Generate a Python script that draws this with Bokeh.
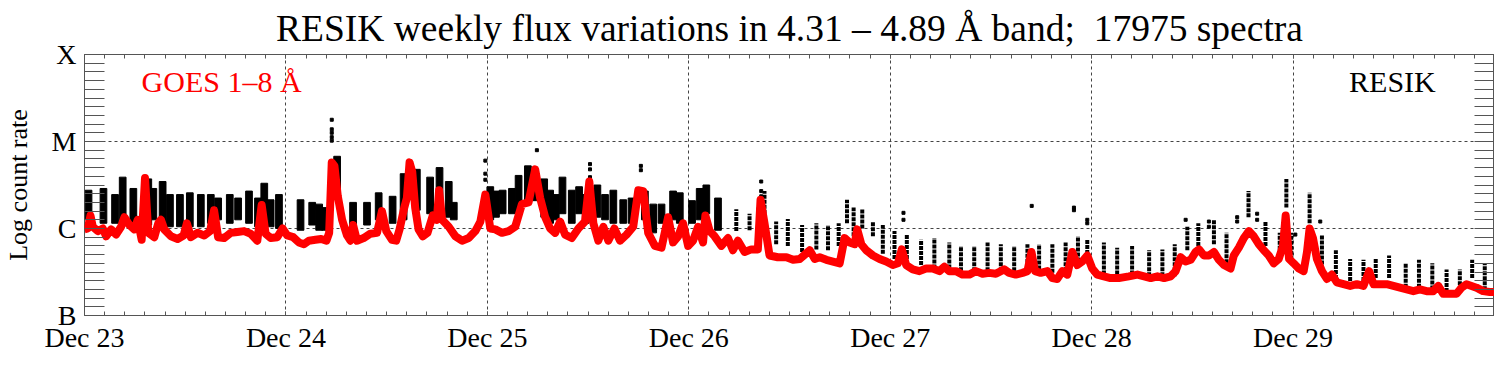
from bokeh.plotting import figure
from bokeh.models import Range1d, FixedTicker, LinearAxis, Grid, Label
from bokeh.embed import file_html
from bokeh.resources import INLINE

# ---------------- data ----------------
day_labels = ["Dec 23", "Dec 24", "Dec 25", "Dec 26", "Dec 27", "Dec 28", "Dec 29"]
day_hours = [0, 24, 48, 72, 96, 120, 144]
class_labels = ["B", "C", "M", "X"]
class_levels = [-7, -6, -5, -4]

# GOES 1-8 A flux, hours since Dec 23 00:00, log10 flux
goes_hours = [0.00, 0.40, 0.71, 0.99, 1.58, 2.18, 2.57, 3.17, 3.76, 4.36, 4.75, 5.35, 5.94, 6.34, 6.81, 7.21, 7.60,
              8.32, 8.79, 9.11, 9.50, 10.30, 11.09, 11.80, 12.20, 12.67, 13.46, 14.26, 14.97, 15.44, 15.92, 16.63,
              17.42, 18.22, 19.01, 19.80, 20.59, 21.11, 21.58, 22.18, 22.97, 23.60, 24.16, 24.87, 25.54, 26.14,
              26.73, 27.52, 28.20, 28.83, 29.15, 29.46, 29.78, 30.18, 30.69, 31.28, 31.68, 32.00, 32.47, 33.26,
              34.06, 34.85, 35.44, 35.96, 36.63, 37.14, 37.54, 38.10, 38.41, 38.73, 39.05, 39.40, 39.80, 40.31,
              40.87, 41.50, 41.98, 42.25, 42.61, 43.40, 44.20, 44.99, 45.78, 46.57, 47.17, 47.76, 48.35, 48.95,
              49.74, 50.53, 51.32, 52.12, 52.91, 53.70, 54.29, 54.89, 55.48, 56.08, 56.67, 57.26, 58.06, 58.85,
              59.64, 60.15, 60.63, 61.22, 61.82, 62.41, 63.13, 63.80, 64.59, 65.38, 65.98, 66.57, 67.16, 67.96,
              68.75, 69.54, 70.13, 70.73, 71.32, 71.92, 72.51, 73.10, 73.70, 73.98, 74.49, 75.08, 75.88, 76.67,
              77.26, 77.86, 78.65, 79.44, 80.23, 80.55, 81.02, 81.62, 82.61, 83.64, 84.43, 85.22, 85.82, 86.41,
              87.01, 87.60, 88.39, 89.18, 89.98, 90.57, 91.16, 91.76, 92.07, 92.55, 93.14, 93.94, 94.73, 95.52,
              96.31, 96.91, 97.38, 97.90, 98.69, 99.48, 100.27, 101.06, 101.86, 102.45, 103.04, 103.84, 104.63,
              105.42, 106.21, 107.00, 107.80, 108.59, 109.58, 110.17, 110.96, 111.76, 112.35, 112.83, 113.26,
              113.93, 114.73, 115.32, 115.91, 116.51, 117.10, 117.70, 118.29, 118.88, 119.48, 120.07, 120.67,
              121.46, 122.25, 123.24, 124.43, 125.46, 126.25, 127.04, 127.84, 128.63, 129.42, 130.01, 130.61,
              131.20, 131.80, 132.39, 132.79, 133.38, 133.97, 134.57, 135.16, 135.76, 136.55, 136.94, 137.54,
              138.13, 138.73, 139.32, 139.91, 140.51, 141.10, 141.70, 142.29, 142.80, 143.12, 143.52, 144.07,
              144.67, 145.26, 145.66, 145.97, 146.37, 146.84, 147.44, 148.03, 148.63, 149.22, 150.01, 150.80,
              151.60, 152.39, 153.06, 153.58, 154.37, 155.16, 155.95, 156.74, 157.54, 158.33, 159.12, 159.91,
              160.70, 161.30, 161.89, 162.68, 163.48, 164.07, 164.66, 165.26, 165.85, 166.64, 167.44, 168.00]
goes_log = [-6.01, -6.00, -5.85, -5.98, -6.03, -6.00, -6.09, -6.01, -6.07, -5.98, -5.87, -5.96, -6.01, -5.90, -6.13,
            -5.42, -6.05, -6.10, -5.94, -5.90, -6.01, -6.09, -6.12, -6.08, -5.94, -6.10, -6.05, -6.08, -6.03, -5.79,
            -6.10, -6.11, -6.05, -6.04, -6.03, -6.06, -6.14, -5.73, -6.06, -6.11, -6.10, -6.00, -6.08, -6.10, -6.16,
            -6.18, -6.14, -6.13, -6.12, -6.14, -6.05, -5.24, -5.28, -5.63, -5.90, -6.08, -6.14, -5.96, -6.14, -6.11,
            -6.06, -6.05, -5.80, -6.03, -6.13, -6.14, -6.01, -5.76, -5.65, -5.24, -5.35, -5.76, -6.01, -6.09, -6.05,
            -5.85, -5.90, -5.56, -5.90, -5.98, -6.09, -6.14, -6.11, -6.03, -5.92, -5.61, -6.00, -6.01, -6.05, -6.03,
            -5.98, -5.72, -5.70, -5.32, -5.65, -5.87, -6.00, -6.05, -5.92, -6.07, -6.11, -6.00, -5.92, -5.46, -5.94,
            -6.14, -5.98, -6.14, -6.00, -6.14, -6.07, -5.98, -5.56, -5.57, -6.05, -6.20, -6.22, -5.87, -6.16, -6.09,
            -5.94, -6.20, -6.14, -5.98, -6.16, -5.85, -6.03, -6.09, -6.20, -6.11, -6.25, -6.14, -6.27, -6.24, -6.24,
            -5.67, -5.94, -6.31, -6.33, -6.33, -6.36, -6.35, -6.30, -6.25, -6.35, -6.33, -6.36, -6.38, -6.40, -6.11,
            -6.16, -6.18, -6.01, -6.18, -6.25, -6.31, -6.35, -6.38, -6.42, -6.40, -6.24, -6.42, -6.47, -6.49, -6.46,
            -6.46, -6.49, -6.44, -6.49, -6.49, -6.53, -6.53, -6.49, -6.52, -6.51, -6.52, -6.47, -6.51, -6.53, -6.51,
            -6.49, -6.27, -6.49, -6.51, -6.49, -6.57, -6.58, -6.49, -6.53, -6.27, -6.42, -6.38, -6.31, -6.46, -6.53,
            -6.55, -6.57, -6.57, -6.55, -6.53, -6.55, -6.57, -6.55, -6.57, -6.55, -6.49, -6.33, -6.38, -6.36, -6.27,
            -6.24, -6.31, -6.31, -6.27, -6.36, -6.42, -6.46, -6.31, -6.22, -6.11, -6.03, -6.09, -6.18, -6.25, -6.31,
            -6.40, -6.35, -6.20, -5.85, -6.35, -6.40, -6.46, -6.49, -6.27, -6.00, -6.11, -6.35, -6.49, -6.58, -6.53,
            -6.62, -6.64, -6.66, -6.64, -6.66, -6.49, -6.64, -6.64, -6.64, -6.66, -6.68, -6.70, -6.72, -6.70, -6.72,
            -6.72, -6.66, -6.75, -6.75, -6.75, -6.68, -6.64, -6.66, -6.68, -6.72, -6.73, -6.73]

# RESIK orbit groups: centre hour, lowest and highest log level of the spectra
resik_hours = [0.48, 2.26, 3.64, 4.55, 5.82, 7.60, 8.20, 9.31, 10.18, 11.37, 12.55, 13.86, 15.05, 15.92, 17.31,
               18.30, 19.60, 20.67, 21.42, 22.18, 23.17, 25.74, 27.13, 27.96, 28.67, 30.10, 32.00, 33.66, 35.05,
               36.71, 38.02, 39.60, 41.18, 42.30, 43.40, 44.00, 48.35, 49.03, 49.82, 50.93, 51.72, 52.83, 53.62,
               54.77, 55.48, 56.15, 56.95, 58.06, 58.93, 59.72, 61.11, 62.02, 63.01, 64.19, 65.18, 66.77, 67.76,
               68.75, 70.13, 70.93, 72.39, 73.30, 74.09, 75.48, 77.66, 79.24, 80.31, 81.02, 82.41, 83.80, 85.50,
               87.20, 88.59, 89.86, 90.85, 91.64, 92.67, 93.94, 95.12, 96.51, 97.98, 99.68, 101.26, 103.04, 104.43,
               106.01, 107.60, 109.18, 110.77, 112.35, 113.74, 115.32, 116.90, 118.37, 119.48, 121.46, 123.04,
               124.82, 126.85, 128.43, 129.90, 131.40, 132.71, 134.57, 136.07, 138.69, 140.71, 142.41, 143.20,
               143.79, 145.97, 147.44, 149.10, 150.80, 152.39, 153.85, 155.44, 157.42, 159.00, 160.59, 162.29,
               163.87, 165.34, 166.84]
resik_low = [-5.90, -5.94, -5.94, -5.90, -5.96, -5.96, -5.90, -5.94, -5.98, -5.98, -5.98, -5.98, -5.94, -5.90, -5.94,
             -5.90, -5.94, -5.98, -5.94, -5.98, -6.00, -6.02, -5.96, -6.02, -6.02, -5.63, -5.96, -5.96, -5.90, -5.94,
             -5.90, -5.79, -5.83, -5.92, -5.87, -5.90, -5.90, -5.87, -5.83, -5.83, -5.83, -5.68, -5.68, -5.87, -5.94,
             -5.90, -5.83, -5.94, -5.83, -5.94, -5.87, -5.90, -5.94, -5.94, -5.94, -5.90, -6.05, -5.94, -5.90, -5.94,
             -5.94, -5.90, -5.83, -6.02, -6.03, -6.02, -5.90, -5.83, -6.18, -6.20, -6.27, -6.24, -6.25, -6.20, -5.94,
             -6.09, -6.00, -6.09, -6.29, -6.35, -6.35, -6.42, -6.46, -6.46, -6.49, -6.49, -6.49, -6.49, -6.49, -6.51,
             -6.47, -6.51, -6.49, -6.38, -6.35, -6.53, -6.53, -6.53, -6.55, -6.55, -6.55, -6.25, -6.20, -6.18, -6.40,
             -5.87, -6.20, -6.36, -5.76, -6.36, -5.94, -6.47, -6.58, -6.66, -6.66, -6.57, -6.57, -6.68, -6.68, -6.70,
             -6.73, -6.71, -6.57, -6.71]
resik_high = [-5.56, -5.54, -5.61, -5.41, -5.54, -5.43, -5.54, -5.46, -5.61, -5.61, -5.59, -5.61, -5.61, -5.65,
              -5.61, -5.65, -5.57, -5.65, -5.48, -5.67, -5.61, -5.67, -5.70, -5.72, -5.76, -5.17, -5.70, -5.70,
              -5.59, -5.63, -5.37, -5.32, -5.41, -5.30, -5.46, -5.70, -5.52, -5.57, -5.56, -5.54, -5.39, -5.28,
              -5.34, -5.43, -5.56, -5.61, -5.41, -5.56, -5.52, -5.61, -5.50, -5.61, -5.56, -5.67, -5.65, -5.57,
              -5.72, -5.72, -5.57, -5.59, -5.68, -5.54, -5.50, -5.65, -5.78, -5.83, -5.76, -5.57, -5.92, -5.89,
              -5.96, -5.94, -5.96, -5.94, -5.67, -5.76, -5.78, -5.92, -5.96, -6.03, -6.07, -6.13, -6.11, -6.16,
              -6.20, -6.20, -6.16, -6.18, -6.20, -6.18, -6.18, -6.18, -6.16, -6.09, -6.13, -6.16, -6.22, -6.20,
              -6.25, -6.24, -6.18, -5.98, -5.94, -5.90, -6.05, -5.57, -5.92, -6.05, -5.43, -6.05, -5.59, -6.07,
              -6.25, -6.35, -6.36, -6.35, -6.31, -6.40, -6.36, -6.40, -6.47, -6.47, -6.36, -6.40]

# isolated RESIK spectra
dots_hours = [29.46, 29.46, 29.46, 29.46, 29.46, 53.90, 47.76, 47.76, 47.76, 60.23, 60.23, 60.23, 66.29, 66.29,
              80.63, 80.63, 80.63, 97.58, 97.58, 112.86, 117.89, 117.89, 119.48, 119.48, 131.20, 133.97, 133.97,
              137.34, 137.34, 139.72, 139.72, 144.27, 147.24]
dots_log = [-4.75, -4.86, -4.90, -4.95, -4.99, -5.10, -5.22, -5.37, -5.44, -5.26, -5.32, -5.41, -5.28, -5.33,
            -5.46, -5.57, -5.63, -5.82, -5.90, -5.74, -5.76, -5.79, -5.90, -5.94, -5.90, -5.92, -5.98,
            -5.87, -5.92, -5.83, -5.90, -6.07, -5.92]

# ---------------- figure ----------------
FONT = "Liberation Serif"
p = figure(width=1494, height=355, x_range=Range1d(0, 168), y_range=Range1d(-7, -4),
           x_axis_type=None, y_axis_type=None, output_backend="svg", toolbar_location=None,
           min_border_left=84, min_border_right=0, min_border_top=54, min_border_bottom=0)
p.title.text = "RESIK weekly flux variations in 4.31 \u2013 4.89 \u00c5 band;\u00a0 17975 spectra"
p.title.text_font = FONT
p.title.text_font_size = "37.5px"
p.title.text_font_style = "normal"
p.title.text_color = "black"
p.title.align = "center"
p.title.offset = 6
p.title.standoff = 11
p.outline_line_color = "#555555"
p.outline_line_width = 1

xticker = FixedTicker(ticks=day_hours, minor_ticks=[i * 2.4 for i in range(71)])
yticker = FixedTicker(ticks=class_levels, minor_ticks=[-7 + i * 0.1 for i in range(31)])

def make_axis(ticker, minor_in, major_in, overrides=None):
    ax = LinearAxis(ticker=ticker)
    ax.axis_line_color = None
    ax.major_tick_line_color = "#555555"
    ax.minor_tick_line_color = "#555555"
    ax.major_tick_out = 0
    ax.minor_tick_out = 0
    ax.major_tick_in = major_in
    ax.minor_tick_in = minor_in
    ax.major_label_text_font = FONT
    ax.major_label_text_color = "black"
    ax.axis_label_text_font = FONT
    if overrides is None:
        ax.major_label_text_font_size = "0px"
        ax.major_label_text_color = None
        ax.major_label_standoff = 0
    else:
        ax.major_label_overrides = overrides
    return ax

xb = make_axis(xticker, 4, 4, dict(zip(day_hours, day_labels)))
xb.major_label_text_font_size = "28px"
xb.major_label_standoff = 6
p.add_layout(xb, "below")

p.add_layout(make_axis(xticker, 4, 4), "above")

yl = make_axis(yticker, 20, 0, dict(zip(class_levels, class_labels)))
yl.major_label_text_font_size = "28px"
yl.major_label_standoff = 8
yl.axis_label = "Log count rate"
yl.axis_label_text_font_size = "26px"
yl.axis_label_text_font_style = "normal"
yl.axis_label_text_color = "black"
yl.axis_label_standoff = 16
p.add_layout(yl, "left")

p.add_layout(make_axis(yticker, 20, 0), "right")

p.add_layout(Grid(dimension=0, ticker=xticker, grid_line_color="#444444", grid_line_dash="3 3",
                  grid_line_width=1))
p.add_layout(Grid(dimension=1, ticker=yticker, grid_line_color="#444444", grid_line_dash="3 3",
                  grid_line_width=1))

# dense orbit groups (first days) as solid blocks, later sparse groups as dotted columns
dense = [i for i, h in enumerate(resik_hours) if h < 76]
sparse = [i for i, h in enumerate(resik_hours) if h >= 76]
p.vbar(x=[resik_hours[i] for i in dense], width=0.8, bottom=[resik_low[i] for i in dense],
       top=[resik_high[i] for i in dense], color="black")
p.segment(x0=[resik_hours[i] for i in sparse], y0=[resik_low[i] for i in sparse],
          x1=[resik_hours[i] for i in sparse], y1=[resik_high[i] for i in sparse],
          line_color="black", line_width=4, line_dash="4 1")
p.scatter(dots_hours, dots_log, size=3, marker="square", color="black")
p.line(goes_hours, goes_log, line_color="#ff0000", line_width=8, line_join="round")

p.add_layout(Label(x=6.8, y=-4.31, text="GOES 1\u20138 \u00c5", text_color="#ff0000", text_font=FONT,
                   text_font_size="30px", text_baseline="middle"))
p.add_layout(Label(x=161.0, y=-4.31, text="RESIK", text_color="black", text_font=FONT,
                   text_font_size="30px", text_baseline="middle", text_align="right"))

open("out.html", "w").write(file_html(p, INLINE))
